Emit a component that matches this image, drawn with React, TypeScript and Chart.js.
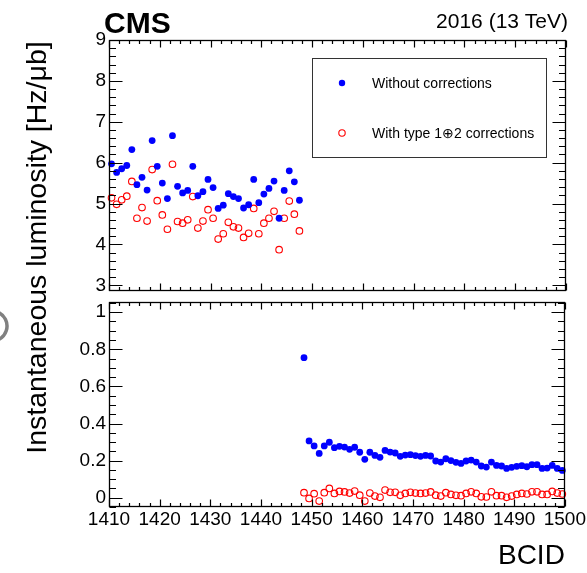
import React, { useEffect, useRef } from "react";
import { Chart, registerables } from "chart.js";

Chart.register(...registerables);

// ---------------- data ----------------
const bcid = [
  1410, 1411, 1412, 1413, 1414, 1415, 1416, 1417, 1418, 1419,
  1420, 1421, 1422, 1423, 1424, 1425, 1426, 1427, 1428, 1429,
  1430, 1431, 1432, 1433, 1434, 1435, 1436, 1437, 1438, 1439,
  1440, 1441, 1442, 1443, 1444, 1445, 1446, 1447, 1448, 1449,
  1450, 1451, 1452, 1453, 1454, 1455, 1456, 1457, 1458, 1459,
  1460, 1461, 1462, 1463, 1464, 1465, 1466, 1467, 1468, 1469,
  1470, 1471, 1472, 1473, 1474, 1475, 1476, 1477, 1478, 1479,
  1480, 1481, 1482, 1483, 1484, 1485, 1486, 1487, 1488, 1489,
  1490, 1491, 1492, 1493, 1494, 1495, 1496, 1497, 1498, 1499,
];

const withoutCorrections = [
  5.97, 5.76, 5.85, 5.93, 6.32, 5.46, 5.64, 5.33, 6.54, 5.91,
  5.5, 5.12, 6.66, 5.42, 5.26, 5.32, 5.91, 5.19, 5.29, 5.59,
  5.39, 4.88, 4.96, 5.24, 5.17, 5.12, 4.89, 4.97, 5.59, 5.02,
  5.23, 5.37, 5.55, 4.64, 5.32, 5.8, 5.53, 5.08, 0.755, 0.306,
  0.279, 0.239, 0.279, 0.299, 0.27, 0.277, 0.273, 0.261, 0.272, 0.245,
  0.207, 0.245, 0.228, 0.218, 0.255, 0.246, 0.241, 0.223, 0.23, 0.232,
  0.227, 0.223, 0.228, 0.225, 0.198, 0.192, 0.21, 0.2, 0.191, 0.185,
  0.198, 0.203, 0.192, 0.171, 0.165, 0.192, 0.174, 0.171, 0.158, 0.164,
  0.169, 0.173, 0.167, 0.178, 0.178, 0.158, 0.16, 0.174, 0.158, 0.147,
];

const withCorrections = [
  5.14, 4.98, 5.09, 5.18, 5.54, 4.64, 4.9, 4.57, 5.83, 5.07,
  4.72, 4.37, 5.96, 4.56, 4.52, 4.6, 5.17, 4.4, 4.57, 4.85,
  4.64, 4.13, 4.26, 4.54, 4.43, 4.4, 4.17, 4.27, 4.88, 4.26,
  4.52, 4.64, 4.81, 3.87, 4.64, 5.06, 4.74, 4.33, 0.027, -0.004,
  0.022, -0.018, 0.027, 0.05, 0.023, 0.034, 0.031, 0.025, 0.036, 0.014,
  -0.018, 0.025, 0.009, 0.002, 0.041, 0.029, 0.029, 0.013, 0.023, 0.029,
  0.025, 0.023, 0.025, 0.031, 0.014, 0.009, 0.027, 0.018, 0.013, 0.011,
  0.023, 0.032, 0.023, 0.005, 0.004, 0.032, 0.011, 0.011, 0.002, 0.009,
  0.018, 0.023, 0.02, 0.032, 0.032, 0.018, 0.018, 0.034, 0.025, 0.02,
];

const seriesLabels = ["Without corrections", "With type 1\u22952 corrections"];
const xRange = [1410, 1500];
const topYRange = [2.86, 9];
const bottomYRange = [-0.05, 1.055];
const xTickStep = 10;
const topYTickStep = 1;
const bottomYTickStep = 0.2;

const yTitle = "Instantaneous luminosity [Hz/\u03bcb]";
const xTitle = "BCID";
const expLabel = "CMS";
const runLabel = "2016 (13 TeV)";

// ---------------- styling ----------------
const W = 587;
const H = 573;
const FONT = '"Liberation Sans", Arial, Helvetica, sans-serif';
const BLUE = "#0000ff";
const RED = "#ff0000";

const toPoints = (vals: number[]) => bcid.map((b, i) => ({ x: b + 0.5, y: vals[i] }));

// Frame and inward ROOT-style tick marks on all four sides
const rootFrame = {
  id: "rootFrame",
  afterDatasetsDraw(chart: any, _args: any, opts: any) {
    const { ctx, chartArea: a, scales } = chart;
    const xs = scales.x;
    const ys = scales.y;
    const L = Math.round(a.left) + 0.5;
    const R = Math.round(a.right) - 0.5;
    const T = Math.round(a.top) + 0.5;
    const B = Math.round(a.bottom) - 0.5;
    ctx.save();
    ctx.strokeStyle = "#000";
    ctx.lineWidth = 1.2;
    ctx.beginPath();
    const isMajor = (v: number, step: number) => Math.abs(v / step - Math.round(v / step)) < 1e-6;
    // x ticks
    {
      const [mn, mx] = [xs.min, xs.max];
      const start = Math.ceil(mn / opts.xMinor - 1e-9) * opts.xMinor;
      const n = Math.floor((mx - start) / opts.xMinor + 1e-9);
      for (let i = 0; i <= n; i++) {
        const v = start + i * opts.xMinor;
        const len = isMajor(v, opts.xMajor) ? opts.xMajorLen : opts.xMinorLen;
        const px = Math.round(xs.getPixelForValue(v)) + 0.5;
        ctx.moveTo(px, B);
        ctx.lineTo(px, B - len);
        ctx.moveTo(px, T);
        ctx.lineTo(px, T + len);
      }
    }
    // y ticks
    {
      const [mn, mx] = [ys.min, ys.max];
      const start = Math.ceil(mn / opts.yMinor - 1e-9) * opts.yMinor;
      const n = Math.floor((mx - start) / opts.yMinor + 1e-9);
      for (let i = 0; i <= n; i++) {
        const v = start + i * opts.yMinor;
        const len = isMajor(v, opts.yMajor) ? opts.yMajorLen : opts.yMinorLen;
        const py = Math.round(ys.getPixelForValue(v)) + 0.5;
        ctx.moveTo(L, py);
        ctx.lineTo(L + len, py);
        ctx.moveTo(R, py);
        ctx.lineTo(R - len, py);
      }
    }
    ctx.stroke();
    ctx.lineWidth = 1.3;
    ctx.strokeRect(L, T, R - L, B - T);
    ctx.restore();
  },
};

// Text annotations and legend box (drawn on the top canvas)
const annotations = {
  id: "annotations",
  afterDraw(chart: any) {
    const { ctx } = chart;
    ctx.save();
    ctx.fillStyle = "#000";
    // CMS
    ctx.font = `bold 30px ${FONT}`;
    ctx.textAlign = "left";
    ctx.textBaseline = "alphabetic";
    ctx.fillText(expLabel, 104, 33);
    // run label
    ctx.font = `21px ${FONT}`;
    ctx.textAlign = "right";
    ctx.fillText(runLabel, 568, 28);
    // y title
    ctx.save();
    ctx.translate(46, 247.5);
    ctx.rotate(-Math.PI / 2);
    ctx.font = `28.5px ${FONT}`;
    ctx.textAlign = "center";
    ctx.fillText(yTitle, 0, 0);
    ctx.restore();
    // partial gray glyph at the left edge
    ctx.strokeStyle = "#808080";
    ctx.lineWidth = 3.5;
    ctx.beginPath();
    ctx.arc(-8, 326, 15, -1.25, 1.25);
    ctx.stroke();
    // legend box
    const lx = 312.5, ly = 58.5, lw = 234, lh = 99;
    ctx.strokeStyle = "#333";
    ctx.lineWidth = 1;
    ctx.strokeRect(lx, ly, lw, lh);
    const rows = [83, 133];
    chart.data.datasets.forEach((ds: any, i: number) => {
      const y = rows[i];
      ctx.beginPath();
      ctx.arc(342, y, 3.2, 0, Math.PI * 2);
      if (i === 0) {
        ctx.fillStyle = ds.backgroundColor;
        ctx.fill();
      } else {
        ctx.strokeStyle = ds.borderColor;
        ctx.lineWidth = 1.1;
        ctx.stroke();
      }
      ctx.fillStyle = "#000";
      ctx.font = `14px ${FONT}`;
      ctx.textAlign = "left";
      ctx.textBaseline = "middle";
      ctx.fillText(ds.label, 372, y + 1);
    });
    ctx.restore();
  },
};

function makeDatasets() {
  return [
    {
      label: seriesLabels[0],
      data: toPoints(withoutCorrections),
      backgroundColor: BLUE,
      borderColor: BLUE,
      borderWidth: 0,
      pointRadius: 3.4,
      pointHoverRadius: 3.4,
      clip: 4,
    },
    {
      label: seriesLabels[1],
      data: toPoints(withCorrections),
      backgroundColor: "rgba(0,0,0,0)",
      borderColor: RED,
      borderWidth: 1.1,
      pointRadius: 3.3,
      pointHoverRadius: 3.3,
      clip: 4,
    },
  ];
}

const fmt = (v: number | string) => String(Math.round(Number(v) * 1000) / 1000);

function makeConfig(panel: "top" | "bottom"): any {
  const isTop = panel === "top";
  const yRange = isTop ? topYRange : bottomYRange;
  return {
    type: "scatter",
    data: { datasets: makeDatasets() },
    plugins: isTop ? [rootFrame, annotations] : [rootFrame],
    options: {
      responsive: false,
      animation: false,
      events: [],
      layout: {
        padding: isTop
          ? { top: 40, right: 21, bottom: H - 291, left: 0 }
          : { top: 302, right: 21, bottom: 0, left: 0 },
      },
      plugins: {
        legend: { display: false },
        tooltip: { enabled: false },
        rootFrame: {
          xMinor: 2,
          xMajor: xTickStep,
          xMajorLen: 7,
          xMinorLen: 3.5,
          yMinor: isTop ? 0.2 : 0.05,
          yMajor: isTop ? topYTickStep : bottomYTickStep,
          yMajorLen: 13,
          yMinorLen: 6.5,
        },
      },
      scales: {
        x: {
          type: "linear",
          min: xRange[0],
          max: xRange[1],
          display: !isTop,
          grid: { display: false, drawTicks: false },
          border: { display: false },
          ticks: {
            stepSize: xTickStep,
            color: "#000",
            padding: 1,
            maxRotation: 0,
            autoSkip: false,
            font: { family: FONT, size: 19 },
            callback: (v: any) => String(v),
          },
          title: {
            display: !isTop,
            text: xTitle,
            align: "end",
            color: "#000",
            padding: { top: 0, bottom: 0 },
            font: { family: FONT, size: 28 },
          },
          afterFit: (s: any) => {
            if (!isTop) s.height = H - 507;
          },
        },
        y: {
          type: "linear",
          min: yRange[0],
          max: yRange[1],
          grid: { display: false, drawTicks: false },
          border: { display: false },
          ticks: {
            stepSize: isTop ? topYTickStep : bottomYTickStep,
            includeBounds: false,
            color: "#000",
            padding: 3,
            font: { family: FONT, size: 19 },
            callback: (v: any) => fmt(v),
          },
          afterFit: (s: any) => {
            s.width = 109;
          },
        },
      },
    },
  };
}

export default function App() {
  const topRef = useRef<HTMLCanvasElement>(null);
  const botRef = useRef<HTMLCanvasElement>(null);
  useEffect(() => {
    const c1 = new Chart(topRef.current as HTMLCanvasElement, makeConfig("top"));
    const c2 = new Chart(botRef.current as HTMLCanvasElement, makeConfig("bottom"));
    return () => {
      c1.destroy();
      c2.destroy();
    };
  }, []);
  return (
    <div style={{ position: "absolute", left: 0, top: 0, width: W, height: H, background: "#fff" }}>
      <canvas ref={topRef} width={W} height={H} style={{ position: "absolute", left: 0, top: 0 }} />
      <canvas ref={botRef} width={W} height={H} style={{ position: "absolute", left: 0, top: 0 }} />
    </div>
  );
}
